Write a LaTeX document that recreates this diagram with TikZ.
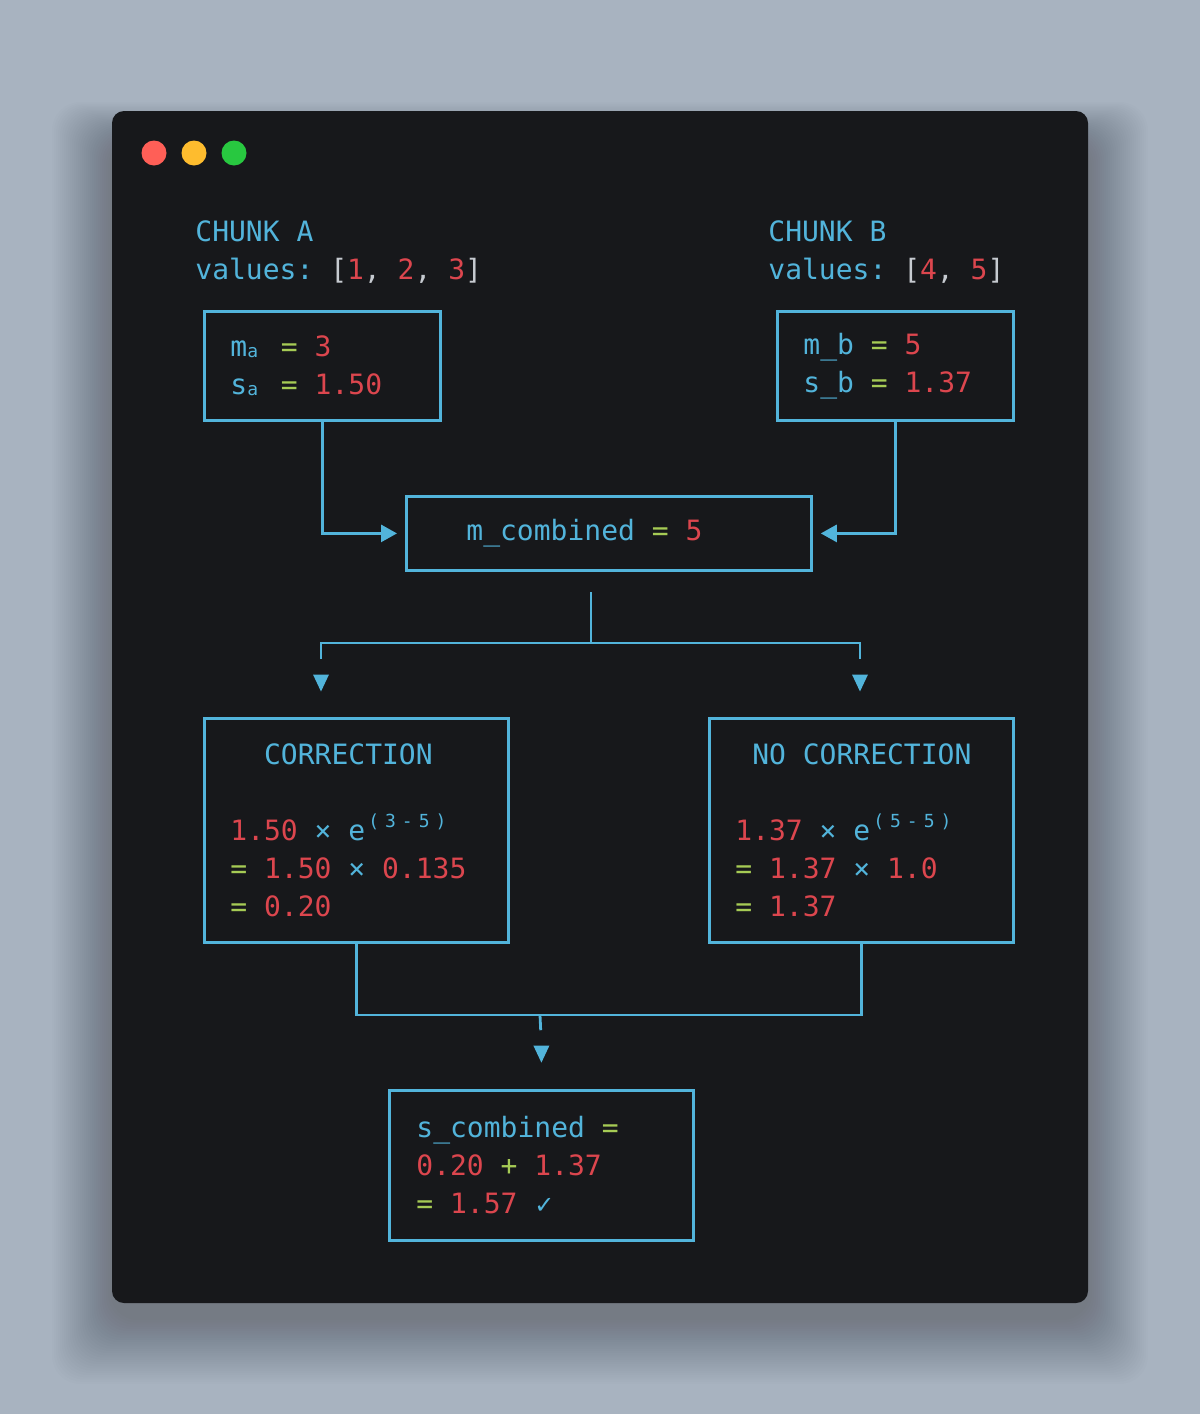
\documentclass[tikz,border=0pt]{standalone}
\usepackage{fontspec}
\usepackage{xcolor}
\usetikzlibrary{positioning,arrows.meta,calc}
\newfontfamily\codefont{DejaVu Sans Mono}
\newfontfamily\symbfont{DejaVu Sans}
\definecolor{pagebg}{HTML}{A8B3C0}
\definecolor{winbg}{HTML}{17181B}
\definecolor{cblue}{HTML}{52B4DB}
\definecolor{cred}{HTML}{DC464E}
\definecolor{cgreen}{HTML}{A6CB55}
\definecolor{cgray}{HTML}{C6CAD0}
\definecolor{dotred}{HTML}{FF5F57}
\definecolor{dotyel}{HTML}{FEBC2E}
\definecolor{dotgrn}{HTML}{28C840}
\newcommand\txtb[1]{\textcolor{cblue}{#1}}
\newcommand\txtr[1]{\textcolor{cred}{#1}}
\newcommand\txtg[1]{\textcolor{cgreen}{#1}}
\newcommand\txtw[1]{\textcolor{cgray}{#1}}
\newcommand\cellsp{\hspace*{8.43pt}}
\newcommand\codesize{\codefont\fontsize{14}{19}\selectfont\frenchspacing\spaceskip=8.43pt\relax}
\newcommand\subch[1]{\makebox[8.43pt][l]{\raisebox{-0.5pt}{\fontsize{9}{9}\selectfont #1}}}
\newcommand\supch[1]{\makebox[8.43pt]{\raisebox{6.5pt}{\fontsize{9}{9}\selectfont #1}}}

\begin{document}
\begin{tikzpicture}[x=0.5pt,y=-0.5pt,
  cbox/.style={draw=cblue,line width=1.4pt,anchor=north west,align=flush left,inner ysep=0pt,font=\codesize,
    execute at begin node={\spaceskip=8.43pt\xspaceskip=8.43pt\relax}},
  hdr/.style={anchor=west,align=left,inner sep=0pt,font=\codesize},
  conn/.style={draw=cblue,line width=1.4pt},
  tri/.style={inner sep=0pt,minimum width=8pt,minimum height=8.5pt,fill=winbg,
    path picture={\fill[cblue] (path picture bounding box.north west) -- (path picture bounding box.north east)
      -- (path picture bounding box.south) -- cycle;}}]
  % page and window
  \fill[pagebg] (0,0) rectangle (1200,1414);
  \useasboundingbox (0,0) rectangle (1200,1414);
  \foreach \i in {1,...,30}
    \fill[black,opacity=0.008,rounded corners=14pt] (112-2*\i,141-1.3*\i) rectangle (1088+2*\i,1318+2.2*\i);
  \fill[winbg,rounded corners=6pt] (112,111) rectangle (1088,1303);
  \foreach \x/\c in {154/dotred,194/dotyel,234/dotgrn}
    \fill[\c] (\x,153) circle (6.25pt);
  % headers
  \node[hdr] (hdrA) at (195,252) {\txtb{CHUNK A}\\\txtb{values:} \txtw{[}\txtr{1}\txtw{,} \txtr{2}\txtw{,} \txtr{3}\txtw{]}};
  \node[hdr] (hdrB) at (768,252) {\txtb{CHUNK B}\\\txtb{values:} \txtw{[}\txtr{4}\txtw{,} \txtr{5}\txtw{]}};
  % boxes
  \node[cbox,inner xsep=13pt,text width=92pt,minimum height=54.5pt] (ba) at (203,310)
    {\txtb{m\subch{a}} \txtg{=} \txtr{3}\\\txtb{s\subch{a}} \txtg{=} \txtr{1.50}};
  \node[cbox,inner xsep=13pt,text width=92pt,minimum height=54.5pt] (bb) at (776,310)
    {\txtb{m\_b} \txtg{=} \txtr{5}\\\txtb{s\_b} \txtg{=} \txtr{1.37}};
  \node[cbox,inner xsep=30pt,text width=142.5pt,minimum height=37pt] (mc) at (405,495)
    {\txtb{m\_combined} \txtg{=} \txtr{5}};
  \node[cbox,inner xsep=13pt,text width=126pt,minimum height=112pt] (corr) at (203,717)
    {\cellsp\cellsp\txtb{CORRECTION}\\[19pt]
     \txtr{1.50} \txtb{× e\supch{(}\supch{3}\supch{-}\supch{5}\supch{)}}\\
     \txtg{=} \txtr{1.50} \txtb{×} \txtr{0.135}\\
     \txtg{=} \txtr{0.20}};
  \node[cbox,inner xsep=13pt,text width=126pt,minimum height=112pt] (nocorr) at (708,717)
    {\cellsp\txtb{NO CORRECTION}\\[19pt]
     \txtr{1.37} \txtb{× e\supch{(}\supch{5}\supch{-}\supch{5}\supch{)}}\\
     \txtg{=} \txtr{1.37} \txtb{×} \txtr{1.0}\\
     \txtg{=} \txtr{1.37}};
  \node[cbox,inner xsep=13.5pt,text width=125pt,minimum height=75pt] (scomb) at (388,1089)
    {\txtb{s\_combined} \txtg{=}\\
     \txtr{0.20} \txtg{+} \txtr{1.37}\\
     \txtg{=} \txtr{1.57} \txtb{\symbfont\fontsize{12}{12}\selectfont ✓}};
  % arrow heads
  \node[tri] (tipL) at (321,683) {};
  \node[tri] (tipR) at (860,683) {};
  \node[tri,above=13pt of scomb] (tipS) {};
  % connectors
  \draw[conn,-{Triangle[length=8pt,width=8.5pt]},shorten >=4pt] (ba.south) |- (mc.west);
  \draw[conn,-{Triangle[length=8pt,width=8.5pt]},shorten >=4pt] (bb.south) |- (mc.east);
  \coordinate (fork) at (591,643);
  \draw[conn,shorten >=10pt] (fork) -- (fork |- mc.south);
  \draw[conn,shorten <=7.5pt,shorten >=7.5pt] (tipL.north) |- (fork) -| (tipR.north);
  \coordinate (merge) at (540,1015);
  \draw[conn] (corr.south) |- (merge) -| (nocorr.south);
  \draw[conn,shorten >=7.5pt] (merge) -- (tipS.north);
\end{tikzpicture}
\end{document}
